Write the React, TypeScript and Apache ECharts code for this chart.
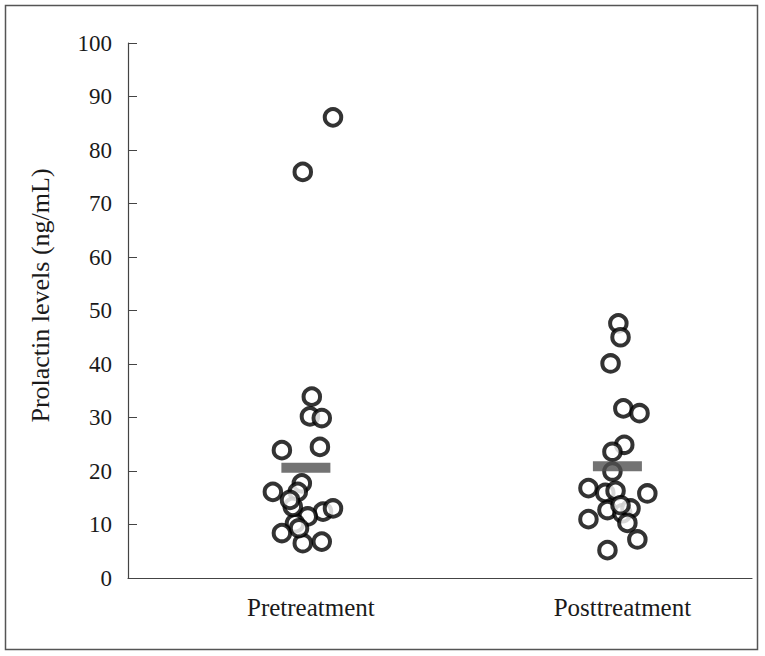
import React, { useEffect, useRef } from "react";
import * as echarts from "echarts";

const categories = ["Pretreatment", "Posttreatment"];
const yTicks = [0, 10, 20, 30, 40, 50, 60, 70, 80, 90, 100];

// horizontal jitter (fraction of the category spacing) and prolactin values
const preJitter = [0.087, -0.01, 0.019, 0.013, 0.051, -0.077, 0.045, -0.013, -0.106, -0.026, 0.055, 0.087, 0.006, -0.035, -0.077, -0.01, 0.051, -0.042, -0.022, -0.051];
const preValues = [86.1, 75.9, 33.9, 30.2, 29.9, 23.9, 24.5, 17.7, 16.1, 16.1, 12.4, 13.0, 11.5, 10.2, 8.4, 6.5, 6.8, 13.3, 9.3, 14.6];
const postJitter = [0.003, 0.01, -0.022, 0.019, 0.071, 0.022, -0.016, -0.016, -0.093, -0.039, -0.006, 0.096, -0.032, 0.016, 0.042, -0.093, 0.032, 0.064, -0.032, 0.01];
const postValues = [47.6, 45.0, 40.1, 31.7, 30.8, 24.9, 23.6, 19.9, 16.8, 15.9, 16.3, 15.8, 12.7, 12.1, 13.0, 11.0, 10.3, 7.2, 5.2, 13.6];
const meanValues = [20.6, 20.9];

export default function App() {
  const ref = useRef<HTMLDivElement>(null);
  useEffect(() => {
    if (!ref.current) return;
    const chart = echarts.init(ref.current, null, { renderer: "svg" });
    const pts = [
      ...preValues.map((v, i) => [0 + preJitter[i], v]),
      ...postValues.map((v, i) => [1 + postJitter[i], v]),
    ];
    const means = meanValues.map((v, i) => [i, v]);
    const font = "'Liberation Serif', 'Times New Roman', serif";
    chart.setOption({
      animation: false,
      backgroundColor: "#ffffff",
      graphic: [
        {
          type: "rect",
          shape: { x: 5.5, y: 5.5, width: 752, height: 644 },
          style: { fill: "none", stroke: "#555", lineWidth: 1.5 },
          z: 0,
        },
      ],
      grid: { left: 128, right: 13, top: 43, bottom: 78 },
      xAxis: {
        type: "value",
        min: -0.571,
        max: 1.432,
        splitLine: { show: false },
        axisTick: { show: false },
        axisLine: { show: true, onZero: false, lineStyle: { color: "#444", width: 1.2 } },
        axisLabel: {
          customValues: [0, 1],
          formatter: (v: number) => categories[Math.round(v)] ?? "",
          fontFamily: font,
          fontSize: 25,
          color: "#1a1a1a",
          margin: 17,
          padding: [0, 0, 0, 10],
        },
      },
      yAxis: {
        type: "value",
        min: 0,
        max: 100,
        interval: 10,
        name: "Prolactin levels (ng/mL)",
        nameLocation: "middle",
        nameGap: 75,
        nameTextStyle: { fontFamily: font, fontSize: 26, color: "#1a1a1a", padding: [0, 0, 0, 30] },
        splitLine: { show: false },
        axisLine: { show: true, onZero: false, lineStyle: { color: "#444", width: 1.2 } },
        axisTick: { show: true, inside: true, length: 9, lineStyle: { color: "#444" } },
        axisLabel: {
          fontFamily: font,
          fontSize: 23,
          color: "#1a1a1a",
          margin: 16,
          customValues: yTicks,
        },
      },
      series: [
        {
          type: "scatter",
          data: pts,
          symbol: "circle",
          symbolSize: 16.5,
          itemStyle: { color: "#fff", borderColor: "#000", borderWidth: 4 },
          z: 2,
        },
        {
          type: "scatter",
          data: means,
          symbol: "rect",
          symbolSize: [49, 10],
          itemStyle: { color: "#505050" },
          z: 3,
        },
      ],
    });
    return () => chart.dispose();
  }, []);
  return (
    <div
      ref={ref}
      style={{ position: "fixed", left: 0, top: 0, width: 765, height: 656 }}
    />
  );
}
